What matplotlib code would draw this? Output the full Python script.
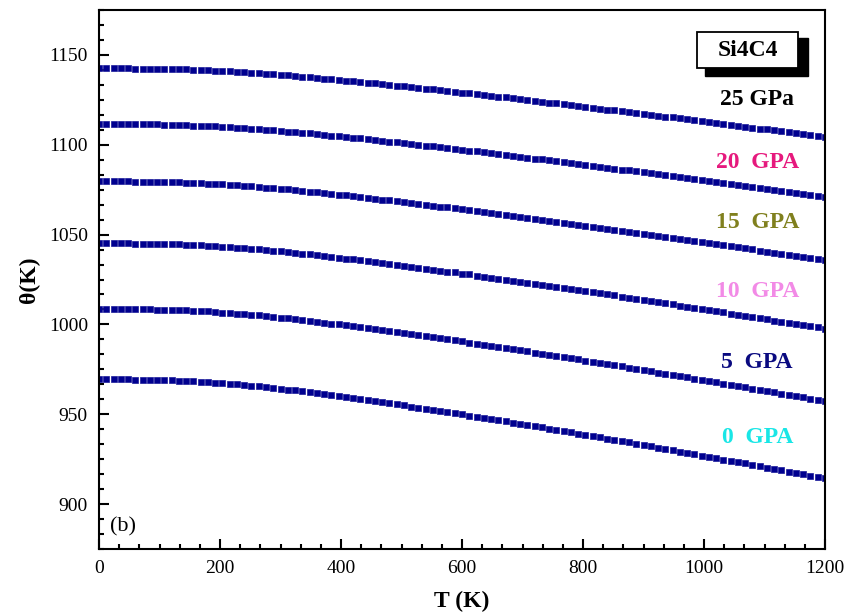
import numpy as np
import matplotlib
matplotlib.use("Agg")
import matplotlib.pyplot as plt
from matplotlib.ticker import MultipleLocator, AutoMinorLocator
from matplotlib.patches import Rectangle

plt.rcParams['font.family'] = ['Liberation Serif', 'DejaVu Serif']

# temperature grid (K)
T = np.arange(0, 1201, 12)

# Debye temperature (K) for each pressure
theta_0 = [969.4, 969.4, 969.4, 969.4, 969.4, 969.3, 969.3, 969.2, 969.1, 969.0,
           968.9, 968.7, 968.5, 968.3, 968.1, 967.8, 967.6, 967.3, 967.0, 966.6,
           966.3, 965.9, 965.5, 965.1, 964.7, 964.2, 963.7, 963.3, 962.8, 962.3,
           961.7, 961.2, 960.7, 960.1, 959.6, 959.0, 958.5, 957.9, 957.3, 956.7,
           956.1, 955.6, 955.0, 954.3, 953.7, 953.1, 952.5, 951.9, 951.2, 950.6,
           950.0, 949.3, 948.7, 948.0, 947.3, 946.7, 946.0, 945.3, 944.7, 944.0,
           943.3, 942.7, 942.0, 941.3, 940.6, 939.9, 939.2, 938.5, 937.8, 937.1,
           936.4, 935.7, 935.0, 934.3, 933.6, 932.9, 932.1, 931.4, 930.7, 930.0,
           929.2, 928.5, 927.8, 927.0, 926.3, 925.5, 924.8, 924.1, 923.3, 922.6,
           921.8, 921.1, 920.3, 919.6, 918.8, 918.1, 917.3, 916.6, 915.8, 915.1,
           914.3]
theta_5 = [1008.6, 1008.6, 1008.6, 1008.6, 1008.6, 1008.5, 1008.5, 1008.4, 1008.3, 1008.2,
           1008.1, 1008.0, 1007.8, 1007.6, 1007.4, 1007.2, 1006.9, 1006.6, 1006.3, 1006.0,
           1005.7, 1005.3, 1005.0, 1004.6, 1004.2, 1003.8, 1003.3, 1002.9, 1002.4, 1002.0,
           1001.5, 1001.0, 1000.5, 1000.0, 999.5, 998.9, 998.4, 997.9, 997.3, 996.8,
           996.3, 995.7, 995.1, 994.6, 994.0, 993.4, 992.9, 992.3, 991.7, 991.1,
           990.5, 989.9, 989.3, 988.7, 988.1, 987.4, 986.8, 986.2, 985.6, 985.0,
           984.3, 983.7, 983.1, 982.4, 981.8, 981.1, 980.5, 979.9, 979.2, 978.6,
           977.9, 977.2, 976.6, 975.9, 975.2, 974.6, 973.9, 973.2, 972.6, 971.9,
           971.2, 970.5, 969.8, 969.1, 968.5, 967.8, 967.1, 966.4, 965.7, 965.0,
           964.3, 963.6, 962.9, 962.2, 961.5, 960.8, 960.1, 959.4, 958.7, 958.0,
           957.3]
theta_10 = [1045.1, 1045.1, 1045.1, 1045.1, 1045.1, 1045.0, 1045.0, 1044.9, 1044.9, 1044.8,
            1044.6, 1044.5, 1044.3, 1044.2, 1044.0, 1043.8, 1043.5, 1043.3, 1043.0, 1042.7,
            1042.4, 1042.1, 1041.7, 1041.4, 1041.0, 1040.6, 1040.2, 1039.8, 1039.4, 1039.0,
            1038.5, 1038.0, 1037.6, 1037.1, 1036.6, 1036.2, 1035.7, 1035.2, 1034.7, 1034.2,
            1033.7, 1033.2, 1032.6, 1032.1, 1031.6, 1031.1, 1030.5, 1030.0, 1029.4, 1028.9,
            1028.3, 1027.8, 1027.2, 1026.6, 1026.1, 1025.5, 1024.9, 1024.4, 1023.8, 1023.2,
            1022.6, 1022.0, 1021.5, 1020.9, 1020.3, 1019.7, 1019.1, 1018.5, 1017.9, 1017.3,
            1016.7, 1016.1, 1015.5, 1014.8, 1014.2, 1013.6, 1013.0, 1012.3, 1011.7, 1011.1,
            1010.5, 1009.8, 1009.2, 1008.6, 1007.9, 1007.3, 1006.7, 1006.0, 1005.4, 1004.7,
            1004.1, 1003.4, 1002.8, 1002.1, 1001.5, 1000.9, 1000.2, 999.6, 998.9, 998.3,
            997.6]
theta_15 = [1079.6, 1079.6, 1079.6, 1079.6, 1079.6, 1079.5, 1079.5, 1079.4, 1079.4, 1079.3,
            1079.2, 1079.0, 1078.9, 1078.7, 1078.6, 1078.4, 1078.1, 1077.9, 1077.7, 1077.4,
            1077.1, 1076.8, 1076.5, 1076.2, 1075.8, 1075.5, 1075.1, 1074.7, 1074.3, 1073.9,
            1073.5, 1073.1, 1072.6, 1072.2, 1071.8, 1071.3, 1070.9, 1070.4, 1070.0, 1069.5,
            1069.0, 1068.6, 1068.1, 1067.6, 1067.1, 1066.6, 1066.1, 1065.6, 1065.1, 1064.6,
            1064.1, 1063.6, 1063.1, 1062.5, 1062.0, 1061.5, 1061.0, 1060.4, 1059.9, 1059.4,
            1058.8, 1058.3, 1057.7, 1057.2, 1056.6, 1056.1, 1055.5, 1055.0, 1054.4, 1053.9,
            1053.3, 1052.8, 1052.2, 1051.6, 1051.0, 1050.5, 1049.9, 1049.3, 1048.7, 1048.2,
            1047.6, 1047.0, 1046.4, 1045.8, 1045.2, 1044.6, 1044.1, 1043.5, 1042.9, 1042.3,
            1041.7, 1041.1, 1040.5, 1039.9, 1039.3, 1038.7, 1038.1, 1037.5, 1036.9, 1036.3,
            1035.7]
theta_20 = [1111.5, 1111.5, 1111.5, 1111.5, 1111.5, 1111.4, 1111.4, 1111.4, 1111.3, 1111.2,
            1111.1, 1111.0, 1110.9, 1110.7, 1110.5, 1110.4, 1110.2, 1109.9, 1109.7, 1109.5,
            1109.2, 1108.9, 1108.6, 1108.3, 1108.0, 1107.7, 1107.3, 1107.0, 1106.6, 1106.3,
            1105.9, 1105.5, 1105.1, 1104.7, 1104.3, 1103.9, 1103.5, 1103.0, 1102.6, 1102.2,
            1101.8, 1101.3, 1100.9, 1100.4, 1100.0, 1099.5, 1099.1, 1098.6, 1098.2, 1097.7,
            1097.2, 1096.7, 1096.3, 1095.8, 1095.3, 1094.8, 1094.3, 1093.8, 1093.3, 1092.8,
            1092.3, 1091.8, 1091.3, 1090.8, 1090.3, 1089.8, 1089.3, 1088.8, 1088.3, 1087.8,
            1087.3, 1086.7, 1086.2, 1085.7, 1085.2, 1084.6, 1084.1, 1083.6, 1083.0, 1082.5,
            1082.0, 1081.4, 1080.9, 1080.4, 1079.8, 1079.3, 1078.7, 1078.2, 1077.6, 1077.1,
            1076.5, 1076.0, 1075.4, 1074.9, 1074.3, 1073.8, 1073.2, 1072.7, 1072.1, 1071.6,
            1071.0]
theta_25 = [1142.5, 1142.5, 1142.5, 1142.5, 1142.5, 1142.4, 1142.4, 1142.4, 1142.3, 1142.2,
            1142.1, 1142.0, 1141.9, 1141.8, 1141.6, 1141.4, 1141.2, 1141.0, 1140.8, 1140.6,
            1140.3, 1140.1, 1139.8, 1139.5, 1139.2, 1138.9, 1138.6, 1138.2, 1137.9, 1137.6,
            1137.2, 1136.8, 1136.5, 1136.1, 1135.7, 1135.3, 1134.9, 1134.5, 1134.1, 1133.7,
            1133.3, 1132.9, 1132.5, 1132.1, 1131.6, 1131.2, 1130.8, 1130.4, 1129.9, 1129.5,
            1129.0, 1128.6, 1128.1, 1127.7, 1127.2, 1126.8, 1126.3, 1125.8, 1125.4, 1124.9,
            1124.4, 1124.0, 1123.5, 1123.0, 1122.5, 1122.1, 1121.6, 1121.1, 1120.6, 1120.1,
            1119.6, 1119.2, 1118.7, 1118.2, 1117.7, 1117.2, 1116.7, 1116.2, 1115.7, 1115.2,
            1114.7, 1114.2, 1113.6, 1113.1, 1112.6, 1112.1, 1111.6, 1111.1, 1110.6, 1110.1,
            1109.5, 1109.0, 1108.5, 1108.0, 1107.5, 1106.9, 1106.4, 1105.9, 1105.4, 1104.8,
            1104.3]

series = [theta_0, theta_5, theta_10, theta_15, theta_20, theta_25]

labels = ['0  GPA', '5  GPA', '10  GPA', '15  GPA', '20  GPA', '25 GPa']
label_colors = ['#19e6e6', '#0a0a80', '#f28ae6', '#80801e', '#e6197d', '#000000']
label_y = [937, 979, 1018.5, 1056.5, 1090, 1125]

fig = plt.figure(figsize=(8.57, 6.14), dpi=100)
ax = fig.add_axes([99/857, 65/614, 726/857, 539/614])

for th in series:
    ax.plot(T, th, linestyle='none', marker='s', markersize=4.8,
            markerfacecolor='#00008f', markeredgecolor='#1a1a9a', markeredgewidth=0.5)

for lab, c, yv in zip(labels, label_colors, label_y):
    ax.text(1088, yv, lab, color=c, fontsize=17, fontweight='bold',
            ha='center', va='center')

# Si4C4 box with drop shadow
def px2ax(x, y):
    return (x - 99) / 726, (549 - y) / 539

x0, y0 = px2ax(705, 76)
x1, y1 = px2ax(808, 38)
ax.add_patch(Rectangle((x0, y0), x1 - x0, y1 - y0, transform=ax.transAxes,
                       facecolor='black', edgecolor='black', zorder=5, clip_on=False))
x0, y0 = px2ax(697, 68)
x1, y1 = px2ax(798, 32)
ax.add_patch(Rectangle((x0, y0), x1 - x0, y1 - y0, transform=ax.transAxes,
                       facecolor='white', edgecolor='black', linewidth=1.3, zorder=6, clip_on=False))
cx, cy = px2ax(747.5, 50.5)
ax.text(cx, cy, 'Si4C4', transform=ax.transAxes, fontsize=17, fontweight='bold',
        ha='center', va='center', zorder=7)

ax.text(18, 885, '(b)', fontsize=16)

ax.set_xlim(0, 1200)
ax.set_ylim(875, 1175)
ax.xaxis.set_major_locator(MultipleLocator(200))
ax.yaxis.set_major_locator(MultipleLocator(50))
ax.xaxis.set_minor_locator(AutoMinorLocator(6))
ax.yaxis.set_minor_locator(AutoMinorLocator(6))
ax.tick_params(which='both', direction='in', top=False, right=False, width=1.5)
ax.tick_params(which='major', length=7, labelsize=14, pad=8)
ax.tick_params(which='minor', length=3.5)
ax.set_yticks([900, 950, 1000, 1050, 1100, 1150])
for s in ax.spines.values():
    s.set_linewidth(1.5)

ax.set_xlabel('T (K)', fontsize=17, fontweight='bold', labelpad=10)
ax.set_ylabel('θ(K)', fontsize=17, fontweight='bold', labelpad=6)

fig.savefig('out.png', dpi=100)
